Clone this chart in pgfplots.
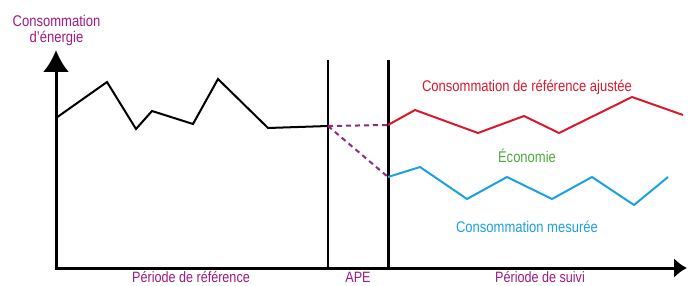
\documentclass[border=0pt]{standalone}
\usepackage{pgfplots}
\pgfplotsset{compat=1.18}
\usepackage{fontspec}
\setmainfont{Liberation Sans}[FakeStretch=0.84]
\usetikzlibrary{arrows.meta}
\definecolor{lblpurple}{HTML}{9E1A80}
\definecolor{dashpurple}{HTML}{8E2A7A}
\definecolor{cred}{HTML}{D71A2C}
\definecolor{cgreen}{HTML}{4EA83C}
\definecolor{cblue}{HTML}{1BA1E2}
\newcommand{\lf}{\fontsize{15.5}{16}\selectfont}
\newcommand{\botf}{\fontsize{15}{16}\selectfont}
\begin{document}
\begin{tikzpicture}
\begin{axis}[
  name=ax,
  scale only axis, width=688pt, height=286pt,
  xmin=0, xmax=688, ymin=0, ymax=286, y dir=reverse,
  axis lines=none, ticks=none, clip=false,
]
% axes
\addplot[black, line width=3pt, -{Latex[length=22pt,width=26pt]}] coordinates {(56,268) (56,50)};
\addplot[black, line width=3pt, -{Latex[length=13pt,width=20pt]}] coordinates {(54.5,268) (687,268)};
% vertical separators
\addplot[black, line width=2pt] coordinates {(328,60) (328,268)};
\addplot[black, line width=3pt] coordinates {(388,60) (388,268)};
% reference period consumption
\addplot[black, line width=2pt] coordinates {(56,118) (107,82) (136,129) (152,111) (193,124) (218,79) (268,128) (328,126)};
% dashed projections
\addplot[dashpurple, line width=2pt, dash pattern=on 5pt off 4pt] coordinates {(328,126) (388,125)};
\addplot[dashpurple, line width=2pt, dash pattern=on 5pt off 4pt] coordinates {(328,126) (388,177)};
% adjusted reference
\addplot[cred, line width=2pt] coordinates {(388,125) (415,110) (478,133) (524,116) (559,133) (632,97) (683,115)};
% measured
\addplot[cblue, line width=2pt] coordinates {(388,177) (420,167) (467,199) (507,177) (552,199) (592,177) (634,205) (668,177)};
% labels
\node[lblpurple, font=\lf, anchor=base] at (axis cs:56.5,27) {Consommation};
\node[lblpurple, font=\lf, anchor=base] at (axis cs:56.5,43) {d’énergie};
\node[cred, font=\lf, anchor=base] at (axis cs:527,92) {Consommation de référence ajustée};
\node[cgreen, font=\lf, anchor=base] at (axis cs:527,162) {Économie};
\node[cblue, font=\lf, anchor=base] at (axis cs:527,232) {Consommation mesurée};
\node[lblpurple, font=\botf, anchor=base, inner sep=0pt] at (axis cs:191,282) {Période de référence};
\node[lblpurple, font=\botf, anchor=base, inner sep=0pt] at (axis cs:358,282) {APE};
\node[lblpurple, font=\botf, anchor=base, inner sep=0pt] at (axis cs:540,282) {Période de suivi};
\end{axis}
\pgfresetboundingbox
\path[use as bounding box] (ax.south west) rectangle (ax.north east);
\end{tikzpicture}
\end{document}
